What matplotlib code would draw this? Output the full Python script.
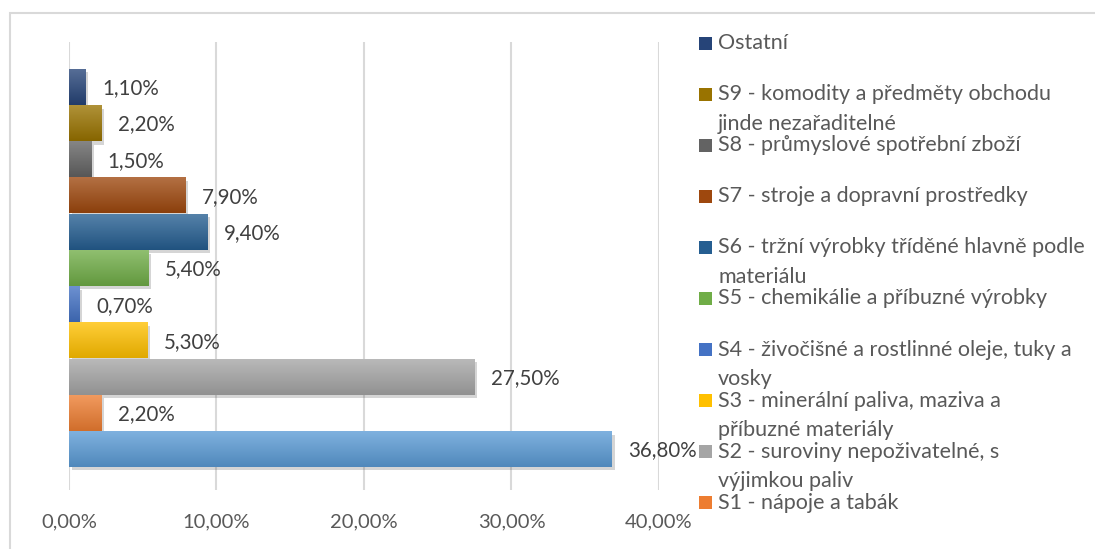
import numpy as np
import matplotlib
matplotlib.use("Agg")
import matplotlib.pyplot as plt
from matplotlib.patches import Rectangle
from matplotlib import patheffects as pe
from matplotlib.colors import to_rgb

plt.rcParams['font.family'] = ['Lato', 'DejaVu Sans']

# categories bottom -> top
categories = ["S0 - potraviny a živá zvířata",
              "S1 - nápoje a tabák",
              "S2 - suroviny nepoživatelné, s\nvýjimkou paliv",
              "S3 - minerální paliva, maziva a\npříbuzné materiály",
              "S4 - živočišné a rostlinné oleje, tuky a\nvosky",
              "S5 - chemikálie a příbuzné výrobky",
              "S6 - tržní výrobky tříděné hlavně podle\nmateriálu",
              "S7 - stroje a dopravní prostředky",
              "S8 - průmyslové spotřební zboží",
              "S9 - komodity a předměty obchodu\njinde nezařaditelné",
              "Ostatní"]
values = [36.8, 2.2, 27.5, 5.3, 0.7, 5.4, 9.4, 7.9, 1.5, 2.2, 1.1]
colors = ['#5B9BD5', '#ED7D31', '#A5A5A5', '#FFC000', '#4472C4', '#70AD47',
          '#255E91', '#9E480E', '#636363', '#997300', '#264478']
xticks = [0, 10, 20, 30, 40]
xticklabels = ['0,00%', '10,00%', '20,00%', '30,00%', '40,00%']

W, H = 1095, 549
fig = plt.figure(figsize=(W / 100, H / 100), dpi=100)
ax = fig.add_axes([69 / W, 1 - 490 / H, 590 / W, 448 / H])

y = np.arange(len(values))
bars = ax.barh(y, values, height=0.99, color=colors, zorder=3)

# gradient fill + soft shadow for each bar
for b, c in zip(bars, colors):
    b.set_path_effects([pe.SimplePatchShadow(offset=(2, -2.5), alpha=0.22, shadow_rgbFace='#444444'),
                        pe.Normal()])
    base = np.array(to_rgb(c))
    top = base + (1 - base) * 0.22
    bot = base * 0.88
    t = np.linspace(0, 1, 50)[:, None]
    grad = (top * (1 - t) + bot * t)[:, None, :]
    x0, y0, w, h = b.get_x(), b.get_y(), b.get_width(), b.get_height()
    ax.imshow(grad, extent=[x0, x0 + w, y0, y0 + h], origin='upper',
              aspect='auto', zorder=4, interpolation='bilinear')

for yi, v in zip(y, values):
    ax.annotate(f"{v:.2f}".replace('.', ',') + '%', (v, yi), xytext=(12, -1),
                textcoords='offset points', va='center', ha='left',
                fontsize=14.8, color='#404040', zorder=5)

ax.set_xlim(0, 40)
ax.set_ylim(-1.13, 11.24)
ax.set_xticks(xticks)
ax.set_xticklabels(xticklabels, fontsize=14.5, color='#595959')
ax.set_yticks([])
ax.tick_params(axis='x', length=0, pad=17)
ax.grid(axis='x', color='#D9D9D9', linewidth=1.5, zorder=0)
for s in ax.spines.values():
    s.set_visible(False)

# outer chart frame (cropped on right/bottom)
fig.add_artist(Rectangle((10 / W, -0.1), 1.2, 1 - 13 / H + 0.1, transform=fig.transFigure,
                         fill=False, edgecolor='#D9D9D9', linewidth=1.5))

# legend drawn manually (Ostatní first, S0 cut off below the frame)
for k, idx in enumerate(range(len(categories) - 1, 0, -1)):
    yc = 43 + 51.1 * k
    fig.add_artist(Rectangle((699 / W, 1 - (yc + 6.5) / H), 13 / W, 13 / H,
                             transform=fig.transFigure, facecolor=colors[idx], edgecolor='none'))
    for j, line in enumerate(categories[idx].split('\n')):
        fig.text(718 / W, 1 - (yc + 29.5 * j) / H, line, fontsize=15.5,
                 color='#595959', va='center', ha='left')

fig.savefig('out.png', dpi=100)
